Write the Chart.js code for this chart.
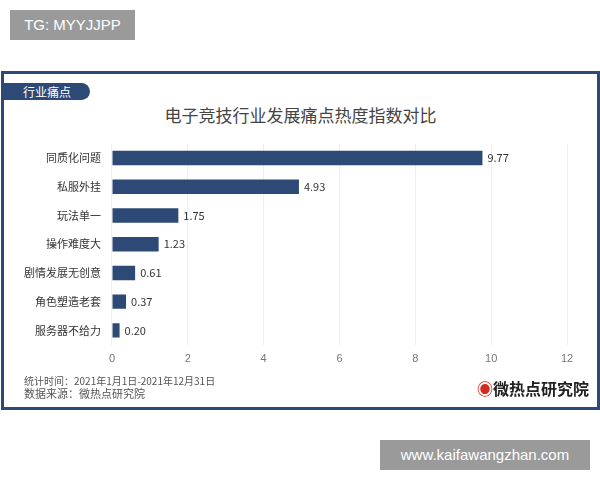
<!DOCTYPE html>
<html><head><meta charset="utf-8">
<script src="https://cdn.jsdelivr.net/npm/chart.js@4"></script>
<style>
body{margin:0;width:600px;height:480px;background:#fff;position:relative;font-family:"Noto Sans CJK SC",sans-serif;overflow:hidden}
#tg{position:absolute;left:10px;top:10px;width:125px;height:30px;background:#9a9a9a;color:#fff;font:15px "Liberation Sans",Arial;line-height:30px;text-align:center}
#www{position:absolute;left:380px;top:440px;width:210px;height:30px;background:#9a9a9a;color:#fff;font:15px "Liberation Sans",Arial;line-height:30px;text-align:center}
#frame{position:absolute;left:1px;top:71px;width:593px;height:333px;border:3px solid #2c4a75;border-top-width:3px}
#tag{position:absolute;left:0;top:9px;width:86px;height:17px;background:#2c4a75;border-radius:0 9px 9px 0;color:#fff;font-size:12px;line-height:17px;padding-left:19px;box-sizing:border-box}
#title{position:absolute;left:0;width:100%;top:28px;text-align:center;font-size:17px;color:#444}
#foot{position:absolute;left:20px;top:300px;font-size:10px;color:#555;line-height:13px}
#logo{position:absolute;right:8px;top:302px;font-size:16px;font-weight:bold;color:#222}
#logo span{color:#d52b1e}
#wrap{position:absolute;left:0;top:60px;width:593px;height:240px}
</style></head><body>
<div id="tg">TG: MYYJJPP</div>
<div id="frame">
<div id="tag">行业痛点</div>
<div id="title">电子竞技行业发展痛点热度指数对比</div>
<div id="wrap"><canvas id="c"></canvas></div>
<div id="foot">统计时间：2021年1月1日-2021年12月31日<br><span style="font-size:11px">数据来源：微热点研究院</span></div>
<div id="logo"><span>◉</span>微热点研究院</div>
</div>
<div id="www">www.kaifawangzhan.com</div>
<script>
const categories=["同质化问题","私服外挂","玩法单一","操作难度大","剧情发展无创意","角色塑造老套","服务器不给力"];
const values=[9.77,4.93,1.75,1.23,0.61,0.37,0.20];
const ticks=[0,2,4,6,8,10,12];
const labelPlugin={id:'lbl',afterDatasetsDraw(ch){const ctx=ch.ctx;const m=ch.getDatasetMeta(0);ctx.save();ctx.font='11px "Noto Sans CJK SC"';ctx.fillStyle='#333';ctx.textBaseline='middle';m.data.forEach((b,i)=>{ctx.fillText(values[i].toFixed(2),b.x+5,b.y);});ctx.restore();}};
new Chart(document.getElementById('c'),{type:'bar',data:{labels:categories,datasets:[{data:values,backgroundColor:'#2c4a75',barPercentage:0.5,categoryPercentage:1}]},
options:{indexAxis:'y',responsive:true,maintainAspectRatio:false,animation:false,layout:{padding:{left:17,right:30,top:0,bottom:0}},
plugins:{legend:{display:false},tooltip:{enabled:false}},
scales:{x:{min:0,max:12,afterBuildTicks(a){a.ticks=ticks.map(v=>({value:v}));},grid:{color:'#eee',drawTicks:false},border:{display:false},ticks:{color:'#777',font:{size:11},padding:8}},
y:{grid:{display:false},border:{display:false},ticks:{color:'#333',font:{size:11,family:'"Noto Sans CJK SC"'}}}}},plugins:[labelPlugin]});
</script></body></html>
